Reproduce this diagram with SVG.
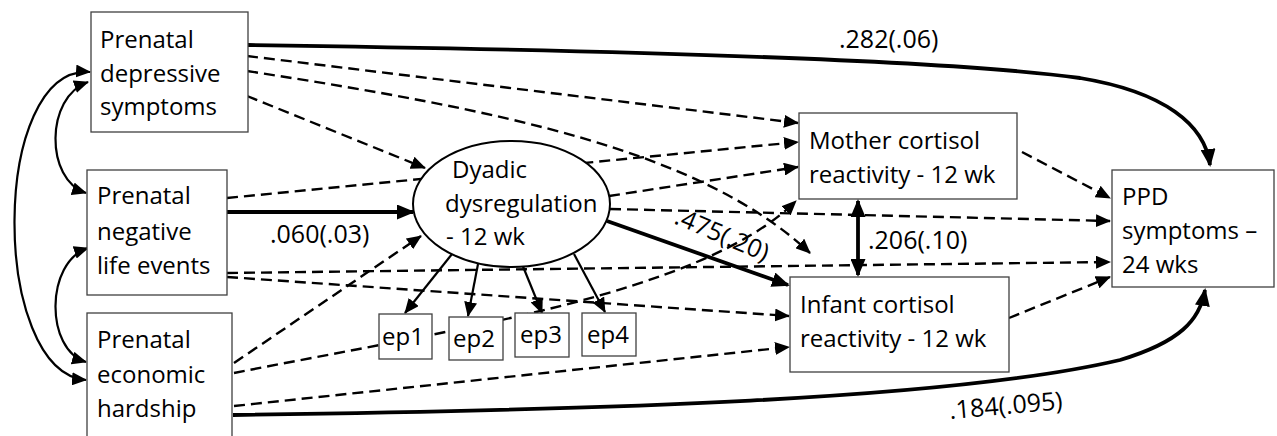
<svg xmlns="http://www.w3.org/2000/svg" width="1277" height="436" viewBox="0 0 1277 436">
<style>
.box{fill:#fff;stroke:#404040;stroke-width:1.3}
.t{font-family:"Open Sans","Liberation Sans",sans-serif;font-size:24px;fill:#000}
.lab{font-family:"Open Sans","Liberation Sans",sans-serif;font-size:25px;fill:#000}
.d{fill:none;stroke:#000;stroke-width:2.4;stroke-dasharray:11 6;marker-end:url(#ah)}
.k{fill:none;stroke:#000;stroke-width:3.8;marker-end:url(#ahb)}
.n{fill:none;stroke:#000;stroke-width:2.2;marker-end:url(#ah)}
.c{fill:none;stroke:#000;stroke-width:2.2;marker-start:url(#ah);marker-end:url(#ah)}
</style>
<defs>
<marker id="ah" markerUnits="userSpaceOnUse" markerWidth="15" markerHeight="13" refX="14" refY="6.5" orient="auto-start-reverse"><path d="M0,0 L15,6.5 L0,13 Z" fill="#000"/></marker>
<marker id="ahb" markerUnits="userSpaceOnUse" markerWidth="18" markerHeight="15" refX="16" refY="7.5" orient="auto-start-reverse"><path d="M0,0 L18,7.5 L0,15 Z" fill="#000"/></marker>
</defs>
<g id="connectors">
<path class="k" d="M248,45 C600,50 950,60 1080,78 C1165,92 1205,125 1210,165"/>
<path class="d" d="M247,56 L798,123"/>
<path class="d" d="M247,71 C500,110 700,150 810,253"/>
<path class="d" d="M247,96 L425,168"/>
<path class="d" d="M227,198 L798,142"/>
<path class="k" d="M227,212 L413,212"/>
<path class="d" d="M227,273 L1110,262"/>
<path class="d" d="M227,277 L789,316"/>
<path class="d" d="M234,363 L421,236"/>
<path class="d" d="M234,373 C450,330 700,295 796,201"/>
<path class="d" d="M234,406 L789,347"/>
<path class="k" d="M233,415 C600,410 950,400 1120,360 C1180,342 1200,320 1205,290"/>
<path class="d" d="M609,196 L798,167"/>
<path class="d" d="M610,209 L1110,221"/>
<path class="k" d="M607,221 L788,285"/>
<path class="n" d="M452,254 L405,313"/>
<path class="n" d="M478,264 L468,316"/>
<path class="n" d="M522,264 L542,313"/>
<path class="n" d="M574,254 L605,312"/>
<path class="d" d="M1022,152 L1110,198"/>
<path class="d" d="M1009,318 L1110,277"/>
<path class="k" style="marker-start:url(#ahb)" d="M858,201 L858,275"/>
<path class="c" d="M90,72 C-10,65 -10,372 86,380"/>
<path class="c" d="M88,82 C45,97 45,180 86,193"/>
<path class="c" d="M88,248 C45,262 45,350 86,362"/>
</g>
<g id="labels">
<text class="lab" x="839" y="48">.282(.06)</text>
<text class="lab" x="270" y="243">.060(.03)</text>
<text class="lab" transform="translate(673,223) rotate(23)">.475(.20)</text>
<text class="lab" x="868" y="249">.206(.10)</text>
<text class="lab" transform="translate(950,419) rotate(-5)">.184(.095)</text>
</g>
<g id="n-depressive">
<rect class="box" x="91" y="12" width="157" height="120"/>
<text class="t" x="100" y="48">Prenatal</text>
<text class="t" x="100" y="82">depressive</text>
<text class="t" x="100" y="115">symptoms</text>
</g>
<g id="n-life">
<rect class="box" x="87" y="170" width="140" height="125"/>
<text class="t" x="97" y="204">Prenatal</text>
<text class="t" x="97" y="240">negative</text>
<text class="t" x="97" y="274">life events</text>
</g>
<g id="n-economic">
<rect class="box" x="87" y="313" width="145" height="130"/>
<text class="t" x="97" y="348">Prenatal</text>
<text class="t" x="97" y="383">economic</text>
<text class="t" x="97" y="417">hardship</text>
</g>
<g id="n-dyadic">
<ellipse cx="511.5" cy="204" rx="98.5" ry="63" fill="#fff" stroke="#000" stroke-width="2"/>
<text class="t" x="452" y="178">Dyadic</text>
<text class="t" x="445" y="212">dysregulation</text>
<text class="t" x="446" y="245">- 12 wk</text>
</g>
<g id="n-ep1"><rect class="box" x="379" y="314" width="53" height="45"/><text class="t" x="382" y="345">ep1</text></g>
<g id="n-ep2"><rect class="box" x="449" y="317" width="54" height="43"/><text class="t" x="453" y="347">ep2</text></g>
<g id="n-ep3"><rect class="box" x="515" y="313" width="54" height="44"/><text class="t" x="520" y="343">ep3</text></g>
<g id="n-ep4"><rect class="box" x="582" y="313" width="54" height="43"/><text class="t" x="587" y="343">ep4</text></g>
<g id="n-mother">
<rect class="box" x="799" y="113" width="218" height="86"/>
<text class="t" x="809" y="149">Mother cortisol</text>
<text class="t" x="809" y="183">reactivity - 12 wk</text>
</g>
<g id="n-infant">
<rect class="box" x="790" y="277" width="219" height="95"/>
<text class="t" x="800" y="313">Infant cortisol</text>
<text class="t" x="800" y="347">reactivity - 12 wk</text>
</g>
<g id="n-ppd">
<rect class="box" x="1112" y="170" width="162" height="117"/>
<text class="t" x="1122" y="205">PPD</text>
<text class="t" x="1122" y="239">symptoms –</text>
<text class="t" x="1122" y="273">24 wks</text>
</g>
</svg>
